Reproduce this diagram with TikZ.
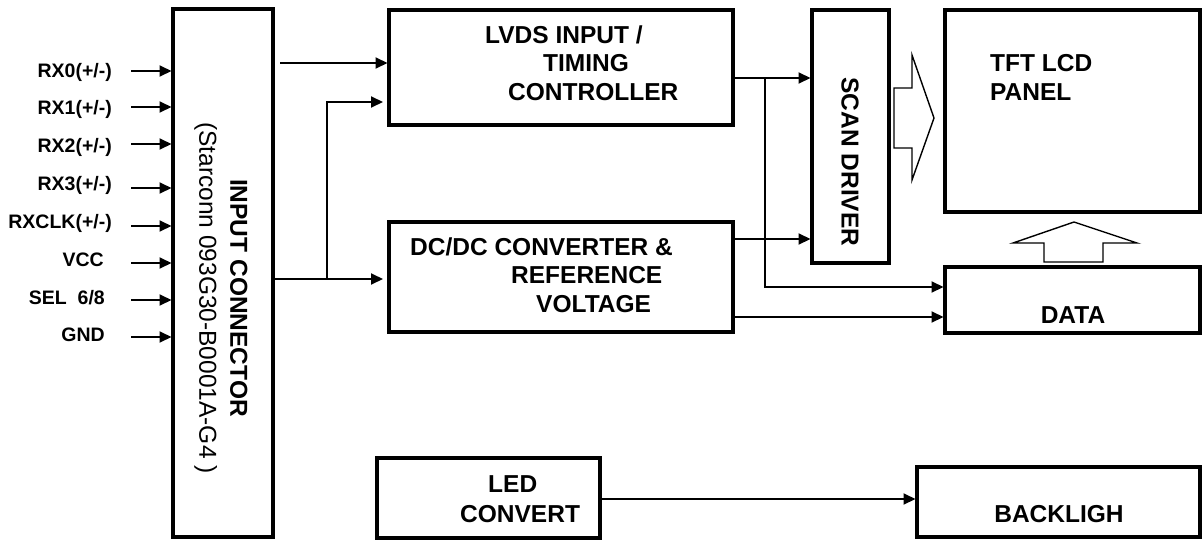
\documentclass[tikz,border=0pt]{standalone}
\usepackage{fontspec}
\setmainfont{Liberation Sans}
\usepackage{tikz}
\usetikzlibrary{arrows.meta}
\usetikzlibrary{positioning}
\usetikzlibrary{calc}
\tikzset{>={Triangle[length=12pt,width=11pt]}}
\newcommand\boxline{3.2pt}
\newcommand\wireline{2pt}
\newcommand\boxfont{\bfseries\fontsize{24.5}{28.5}\selectfont}
\tikzset{
    block/.style = {draw, line width=\boxline, inner sep=0pt, outer sep=0pt, anchor=north west},
    wire/.style = {line width=\wireline, ->, shorten >=1.5pt},
    hollow/.style = {draw, line width=1.4pt, line join=miter},
    blocktext/.style = {font=\boxfont, inner sep=0pt, align=left},
    pinlabel/.style = {font=\bfseries\fontsize{19.5}{22}\selectfont, inner sep=0pt},
}

\begin{document}
\begin{tikzpicture}[x=1pt,y=-1pt]
    \useasboundingbox (0,0) rectangle (1203,541);
    % blocks
    \node(conn)[block, minimum width=100pt, minimum height=528pt] at (173,9) {};
    \node(lvds)[block, minimum width=344pt, minimum height=115pt] at (389,10) {};
    \node(dcdc)[block, minimum width=344pt, minimum height=110pt] at (389,222) {};
    \node(scan)[block, minimum width=77pt, minimum height=253pt] at (812,10) {};
    \node(tft)[block, minimum width=255pt, minimum height=202pt] at (945,10) {};
    \node(data)[block, minimum width=255pt, minimum height=66pt] at (945,267) {};
    \node(led)[block, minimum width=223pt, minimum height=80pt] at (377,458) {};
    \node(back)[block, minimum width=283pt, minimum height=70pt] at (917,467) {};
    % block texts
    \node(conntxt)[rotate=-90, align=center, inner sep=0pt, font=\fontsize{24.5}{31}\selectfont] at (221,298)
        {{\bfseries INPUT CONNECTOR}\\(Starconn 093G30-B0001A-G4 )};
    \node(lvdstxt)[blocktext, anchor=north west] at (485,25.5)
        {LVDS INPUT /\\\hspace*{58pt}TIMING\\\hspace*{23pt}CONTROLLER};
    \node(dcdctxt)[blocktext, anchor=north west] at (410,237.5)
        {DC/DC CONVERTER \&\\\hspace*{101pt}REFERENCE\\\hspace*{126pt}VOLTAGE};
    \node(scantxt)[blocktext, rotate=-90] at (850,162) {SCAN DRIVER};
    \node(tfttxt)[blocktext, anchor=north west] at (990,54.5) {TFT LCD\\PANEL};
    \node(datatxt)[blocktext, anchor=base] at (1073,323) {DATA};
    \node(ledtxt)[blocktext, anchor=north west] at (460,475) {\hspace*{28pt}LED\\[1.5pt]CONVERT};
    \node(backtxt)[blocktext, anchor=base] at (1059,522) {BACKLIGH};
    % input pins
    \foreach \nm/\txt/\yy/\gap/\dy in {rx0/{RX0(+/-)}/71/19/-1, rx1/{RX1(+/-)}/107/19/-2.5,
        rx2/{RX2(+/-)}/144/19/-3.5, rx3/{RX3(+/-)}/188/19/3, rxclk/{RXCLK(+/-)}/226/19/3,
        vcc/{VCC}/263/27/3, sel/{SEL\ \ 6/8}/300/26/2.5, gnd/{GND}/337/26/2}{
        \coordinate(\nm-in) at (131,\yy);
        \node(\nm)[pinlabel, left=\gap pt of \nm-in, yshift=\dy pt]{\txt};
        \draw[wire] (\nm-in) -- (\nm-in -| conn.west);
    }
    % connector outputs
    \coordinate(lvdsin) at (280,63);
    \draw[wire] (lvdsin) -- (lvdsin -| lvds.west);
    \coordinate(split) at (327,279);
    \coordinate(splitup) at (327,102);
    \draw[wire, shorten >=6pt] (conn.east |- split) -- (split -| dcdc.west);
    \draw[wire, shorten >=6pt] (split) -- (splitup) -- (splitup -| lvds.west);
    % timing outputs
    \coordinate(tap) at (765,78);
    \coordinate(tapdown) at (765,287);
    \draw[wire] (lvds.east |- tap) -- (tap -| scan.west);
    \draw[wire] (tap) -- (tapdown) -- (tapdown -| data.west);
    % dc/dc outputs
    \coordinate(dcscan) at (733,239);
    \coordinate(dcdata) at (733,317);
    \draw[wire] (dcdc.east |- dcscan) -- (dcscan -| scan.west);
    \draw[wire] (dcdc.east |- dcdata) -- (dcdata -| data.west);
    % backlight
    \coordinate(ledout) at (600,499);
    \draw[wire] (led.east |- ledout) -- (ledout -| back.west);
    % hollow arrows
    \draw[hollow] (894,88) -- (912,88) -- (912,55) -- (934,118) -- (912,180) -- (912,148) -- (894,148) -- cycle;
    \draw[hollow] (1044,262) -- (1044,243) -- (1013,243) -- (1074,222) -- (1137,243) -- (1103,243) -- (1103,262) -- cycle;
\end{tikzpicture}
\end{document}
